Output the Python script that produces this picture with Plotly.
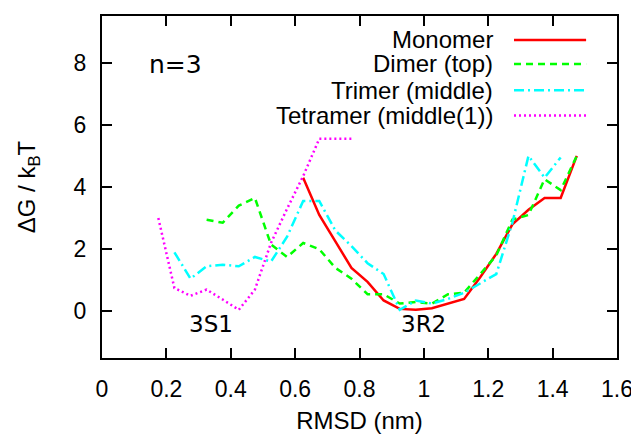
import plotly.graph_objects as go

# ---- data ----
mono_x = [0.625, 0.675, 0.725, 0.775, 0.825, 0.875, 0.925, 0.975, 1.025, 1.075,
          1.125, 1.175, 1.225, 1.275, 1.325, 1.375, 1.425, 1.475]
mono_y = [4.3, 3.1, 2.25, 1.4, 0.95, 0.35, 0.08, 0.05, 0.1, 0.25,
          0.4, 1.1, 1.85, 2.8, 3.27, 3.65, 3.65, 5.0]

dimer_x = [0.325, 0.375, 0.425, 0.475, 0.525, 0.575, 0.625, 0.675, 0.725, 0.775,
           0.825, 0.875, 0.925, 0.975, 1.025, 1.075, 1.125, 1.175, 1.225, 1.275,
           1.325, 1.375, 1.425, 1.475]
dimer_y = [2.95, 2.85, 3.4, 3.65, 2.15, 1.75, 2.2, 2.0, 1.4, 1.05,
           0.55, 0.55, 0.25, 0.3, 0.25, 0.55, 0.6, 1.2, 1.8, 2.95,
           3.1, 4.25, 3.9, 5.0]

trimer_x = [0.225, 0.275, 0.325, 0.375, 0.425, 0.475, 0.525, 0.575, 0.625, 0.675,
            0.725, 0.775, 0.825, 0.875, 0.925, 0.975, 1.025, 1.075, 1.125, 1.175,
            1.225, 1.275, 1.325, 1.375, 1.425]
trimer_y = [1.9, 1.05, 1.45, 1.5, 1.45, 1.75, 1.6, 2.4, 3.55, 3.55,
            2.6, 2.1, 1.55, 1.2, 0.05, 0.35, 0.25, 0.4, 0.6, 0.9,
            1.2, 2.85, 5.0, 4.3, 4.95]

tetra_x = [0.175, 0.225, 0.275, 0.325, 0.375, 0.425, 0.475, 0.525, 0.575, 0.625,
           0.675, 0.725, 0.775]
tetra_y = [3.0, 0.75, 0.5, 0.7, 0.38, 0.05, 0.7, 2.2, 3.3, 4.35,
           5.55, 5.55, 5.55]

series_names = ["Monomer", "Dimer (top)", "Trimer (middle)", "Tetramer (middle(1))"]
series_colors = ["#ff0000", "#00ff00", "#00ffff", "#ff00ff"]
series_dash = ["solid", "7px,5px", "10px,4px,2px,4px", "2px,3px"]

x_range = [0, 1.6]
y_range = [-1.5, 9.5]
x_ticks = [0, 0.2, 0.4, 0.6, 0.8, 1.0, 1.2, 1.4, 1.6]
x_tick_labels = ["0", "0.2", "0.4", "0.6", "0.8", "1", "1.2", "1.4", "1.6"]
y_ticks = [0, 2, 4, 6, 8]
y_tick_labels = ["0", "2", "4", "6", "8"]

xs = [mono_x, dimer_x, trimer_x, tetra_x]
ys = [mono_y, dimer_y, trimer_y, tetra_y]

fig = go.Figure()
for name, x, y, c, d in zip(series_names, xs, ys, series_colors, series_dash):
    fig.add_trace(go.Scatter(x=x, y=y, mode="lines", name=name,
                             line=dict(color=c, width=2.5, dash=d),
                             showlegend=False))

# manual gnuplot-style legend (text right-aligned, sample to the right)
leg_rows = [0.930, 0.860, 0.783, 0.709]
for name, c, d, yy in zip(series_names, series_colors, series_dash, leg_rows):
    fig.add_annotation(x=0.763, y=yy, xref="paper", yref="paper", text=name,
                       showarrow=False, xanchor="right", yanchor="middle",
                       font=dict(family="Liberation Sans", size=24, color="black"))
    fig.add_shape(type="line", xref="paper", yref="paper", x0=0.800, x1=0.940,
                  y0=yy, y1=yy, line=dict(color=c, width=2.5, dash=d))

fig.add_annotation(x=0.228, y=7.93, text="n=3", showarrow=False,
                   font=dict(family="DejaVu Sans", size=25, color="black"))
fig.add_annotation(x=0.339, y=-0.4, text="3S1", showarrow=False,
                   font=dict(family="DejaVu Sans", size=23, color="black"))
fig.add_annotation(x=1.0, y=-0.4, text="3R2", showarrow=False,
                   font=dict(family="DejaVu Sans", size=23, color="black"))

axis_common = dict(showline=True, linecolor="black", linewidth=2, mirror="allticks",
                   ticks="inside", ticklen=10, tickwidth=1.5, tickcolor="black",
                   showgrid=False, zeroline=False, ticklabelstandoff=9,
                   tickfont=dict(family="Liberation Sans", size=23, color="black"))

fig.update_layout(
    xaxis=dict(range=x_range, tickvals=x_ticks, ticktext=x_tick_labels,
               title=dict(text="RMSD (nm)", standoff=12,
                          font=dict(family="Liberation Sans", size=24, color="black")),
               **axis_common),
    yaxis=dict(range=y_range, tickvals=y_ticks, ticktext=y_tick_labels,
               title=dict(text="ΔG / k<sub>B</sub>T", standoff=31,
                          font=dict(family="Liberation Sans", size=24, color="black")),
               **axis_common),
    # page body has an 8px default margin, so the figure is sized to compensate
    width=631, height=428, margin=dict(l=94, r=22, t=6, b=75),
    plot_bgcolor="white", paper_bgcolor="white",
)

fig.write_html("out.html")
